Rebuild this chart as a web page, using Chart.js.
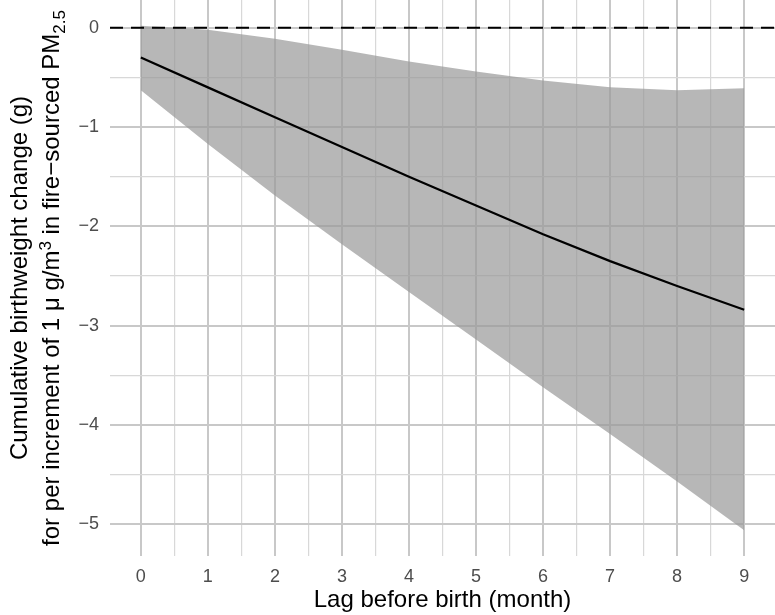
<!DOCTYPE html>
<html>
<head>
<meta charset="utf-8">
<script src="https://cdn.jsdelivr.net/npm/chart.js@4.4.1/dist/chart.umd.min.js"></script>
<style>
    html, body { margin: 0; padding: 0; background: #fff; }
    #wrap { width: 775px; height: 615px; }
</style>
</head>
<body>
<div id="wrap"><canvas id="lagChart" width="775" height="615"></canvas></div>
<script>
// Lag before birth (month)
const lagMonths = [0, 1, 2, 3, 4, 5, 6, 7, 8, 9];
// cumulative change and its confidence band
const estimate = [-0.30, -0.60, -0.90, -1.20, -1.50, -1.79, -2.08, -2.35, -2.60, -2.84];
const upperCI = [0.02, -0.02, -0.11, -0.22, -0.34, -0.44, -0.53, -0.60, -0.63, -0.61];
const lowerCI = [-0.63, -1.17, -1.69, -2.18, -2.66, -3.14, -3.62, -4.09, -4.57, -5.06];

const xTickValues = [0, 1, 2, 3, 4, 5, 6, 7, 8, 9];
const xTickLabels = ['0', '1', '2', '3', '4', '5', '6', '7', '8', '9'];
const yTickValues = [0, -1, -2, -3, -4, -5];
const yTickLabels = ['0', '\u22121', '\u22122', '\u22123', '\u22124', '\u22125'];

const refLineValue = 0;

const xTitle = 'Lag before birth (month)';
const yTitleLine1 = 'Cumulative birthweight change (g)';

const fontFamily = '"Liberation Sans", Arial, Helvetica, sans-serif';
const majorGrid = '#c8c8c8';
const minorGrid = '#d8d8d8';

function isWhole(v) {
    return Math.abs(v - Math.round(v)) < 1e-6;
}

function toPoints(values) {
    return lagMonths.map((m, i) => ({ x: m, y: values[i] }));
}

// dashed reference line at zero
const zeroLinePlugin = {
    id: 'zeroLine',
    afterDatasetsDraw(chart) {
        const { ctx, chartArea, scales } = chart;
        const y = scales.y.getPixelForValue(refLineValue);
        ctx.save();
        ctx.strokeStyle = '#000';
        ctx.lineWidth = 2;
        ctx.setLineDash([13, 8]);
        ctx.beginPath();
        ctx.moveTo(chartArea.left, y);
        ctx.lineTo(chartArea.right, y);
        ctx.stroke();
        ctx.restore();
    }
};

// y title with superscript / subscript, two lines
const yTitlePlugin = {
    id: 'yTitle',
    afterDraw(chart) {
        const { ctx, chartArea } = chart;
        const cy = (chartArea.top + chartArea.bottom) / 2;

        ctx.save();
        ctx.fillStyle = '#000';
        ctx.textBaseline = 'alphabetic';
        ctx.translate(27, cy);
        ctx.rotate(-Math.PI / 2);
        ctx.font = '24px ' + fontFamily;
        ctx.textAlign = 'center';
        ctx.fillText(yTitleLine1, 0, 0);
        ctx.restore();

        const parts = [
            { text: 'for per increment of 1 \u03bc g/m', size: 24, shift: 0 },
            { text: '3', size: 17, shift: -8 },
            { text: ' in fire\u2212sourced PM', size: 24, shift: 0 },
            { text: '2.5', size: 17, shift: 6 }
        ];
        ctx.save();
        ctx.fillStyle = '#000';
        ctx.textBaseline = 'alphabetic';
        ctx.textAlign = 'left';
        let total = 0;
        parts.forEach(p => {
            ctx.font = p.size + 'px ' + fontFamily;
            p.width = ctx.measureText(p.text).width;
            total += p.width;
        });
        ctx.translate(59, cy);
        ctx.rotate(-Math.PI / 2);
        let x = -total / 2;
        parts.forEach(p => {
            ctx.font = p.size + 'px ' + fontFamily;
            ctx.fillText(p.text, x, p.shift);
            x += p.width;
        });
        ctx.restore();
    }
};

const ctx = document.getElementById('lagChart').getContext('2d');

new Chart(ctx, {
    type: 'line',
    data: {
        datasets: [
            {
                label: 'estimate',
                data: toPoints(estimate),
                borderColor: '#000',
                borderWidth: 2.2,
                pointRadius: 0,
                fill: false,
                tension: 0
            },
            {
                label: 'upper',
                data: toPoints(upperCI),
                borderColor: 'rgba(0,0,0,0)',
                backgroundColor: 'rgba(153,153,153,0.7)',
                pointRadius: 0,
                fill: '+1',
                tension: 0
            },
            {
                label: 'lower',
                data: toPoints(lowerCI),
                borderColor: 'rgba(0,0,0,0)',
                pointRadius: 0,
                fill: false,
                tension: 0
            }
        ]
    },
    options: {
        responsive: false,
        animation: false,
        layout: { padding: 0 },
        plugins: {
            legend: { display: false },
            tooltip: { enabled: false }
        },
        scales: {
            x: {
                type: 'linear',
                min: -0.46,
                max: 9.46,
                border: { display: false },
                grid: {
                    drawTicks: false,
                    color: c => isWhole(c.tick.value) ? majorGrid : minorGrid,
                    lineWidth: c => isWhole(c.tick.value) ? 2 : 1.2
                },
                ticks: {
                    stepSize: 0.5,
                    includeBounds: false,
                    autoSkip: false,
                    maxRotation: 0,
                    padding: 10,
                    color: '#4d4d4d',
                    font: { family: fontFamily, size: 18 },
                    callback: value => {
                        if (!isWhole(value)) return '';
                        const i = xTickValues.indexOf(Math.round(value));
                        return i >= 0 ? xTickLabels[i] : '';
                    }
                },
                title: {
                    display: true,
                    text: xTitle,
                    color: '#000',
                    font: { family: fontFamily, size: 24 },
                    padding: { top: 0, bottom: 0 }
                },
                afterFit: scale => {
                    scale.height = 59;
                    scale.paddingLeft = 0;
                    scale.paddingRight = 0;
                }
            },
            y: {
                min: -5.32,
                max: 0.28,
                border: { display: false },
                grid: {
                    drawTicks: false,
                    color: c => isWhole(c.tick.value) ? majorGrid : minorGrid,
                    lineWidth: c => isWhole(c.tick.value) ? 2 : 1.2
                },
                ticks: {
                    stepSize: 0.5,
                    includeBounds: false,
                    autoSkip: false,
                    padding: 11,
                    color: '#4d4d4d',
                    font: { family: fontFamily, size: 18 },
                    callback: value => {
                        if (!isWhole(value)) return '';
                        const i = yTickValues.indexOf(Math.round(value));
                        return i >= 0 ? yTickLabels[i] : '';
                    }
                },
                afterFit: scale => {
                    scale.width = 110;
                    scale.paddingTop = 0;
                    scale.paddingBottom = 0;
                }
            }
        }
    },
    plugins: [zeroLinePlugin, yTitlePlugin]
});
</script>
</body>
</html>
